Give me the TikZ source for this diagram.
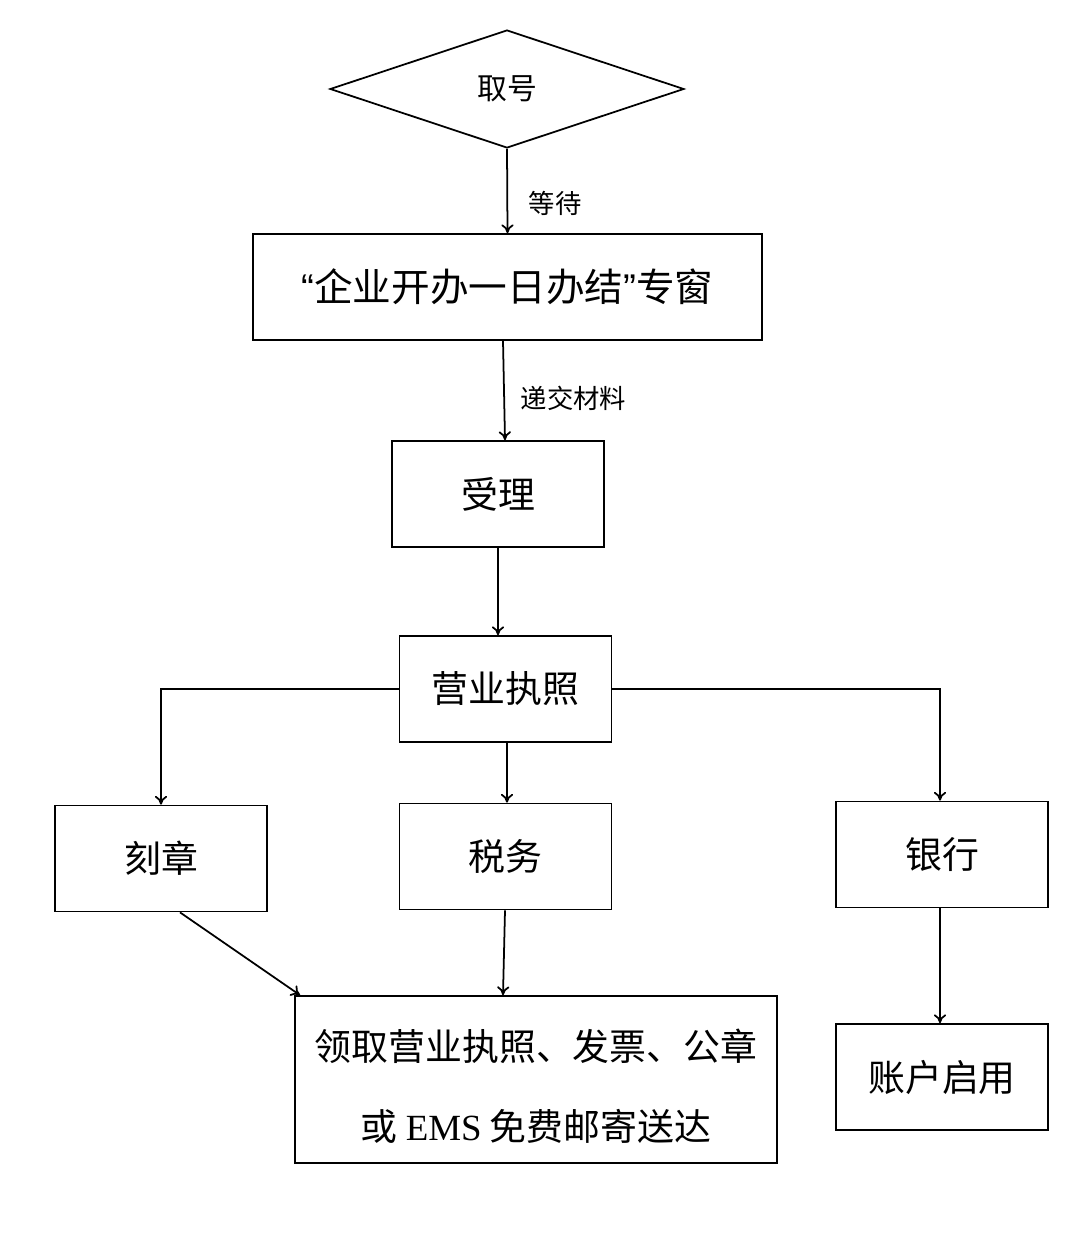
\documentclass[tikz,border=0pt]{standalone}
\usepackage{fontspec}
\setmainfont{Noto Sans CJK SC}
\newfontfamily\emsfont{Liberation Serif}
\newfontfamily\quotefont{Liberation Sans}
\usetikzlibrary{shapes.geometric,arrows.meta}

\begin{document}
\begin{tikzpicture}[x=0.02cm, y=-0.02cm, line width=1pt, >={To[length=5pt,width=7pt]},
  box/.style={draw, rectangle, inner sep=0pt, minimum width=4.24cm, minimum height=2.12cm,
    font=\fontsize{21}{24}\selectfont},
  lbl/.style={font=\fontsize{15}{18}\selectfont, anchor=west}]

% Fix the page size
  \useasboundingbox (0,0) rectangle (1080,1247);

% Draw the diamond at the top
  \node[draw, diamond, aspect=3, inner sep=0pt, minimum width=7.08cm, minimum height=2.36cm,
    font=\fontsize{17}{20}\selectfont] (quhao) at (507,89) {取号};

% Draw the window box
  \node[box, minimum width=10.18cm, font=\fontsize{22}{24}\selectfont] (zhuanchuang) at (507.5,287)
    {{\quotefont “}企业开办一日办结{\quotefont ”}专窗};

% Draw the boxes in the middle column
  \node[box] (shouli) at (498,494) {受理};
  \node[box] (zhizhao) at (505.5,689) {营业执照};
  \node[box] (shuiwu) at (505.5,856.5) {税务};

% Draw the boxes on the left and right
  \node[box] (kezhang) at (161,858.5) {刻章};
  \node[box] (yinhang) at (942,854.5) {银行};
  \node[box] (zhanghu) at (942,1077) {账户启用};

% Draw the big box at the bottom
  \node[box, minimum width=9.64cm, minimum height=3.34cm, align=center,
    font=\fontsize{21}{45}\selectfont] (lingqu) at (536,1079.5)
    {\rule{0pt}{0.9cm}领取营业执照、发票、公章\\或 {\emsfont EMS} 免费邮寄送达};

% Arrows down the middle
  \draw[->] (quhao.south) -- (zhuanchuang.north) node[lbl, midway, xshift=0.3cm, yshift=-0.25cm] {等待};
  \draw[->] (zhuanchuang.south -| 503,0) -- (shouli.north -| 505,0) node[lbl, midway, xshift=0.2cm, yshift=-0.15cm] {递交材料};
  \draw[->] (shouli.south) -- (zhizhao.north -| 498,0);
  \draw[->] (zhizhao.south -| 507,0) -- (shuiwu.north -| 507,0);

% Arrows to the left and right branches
  \draw[->] (zhizhao.west) -| (kezhang.north);
  \draw[->] (zhizhao.east) -| (yinhang.north -| 940,0);

% Arrows to the last boxes
  \draw[->] (kezhang.south -| 180,0) -- (lingqu.north west -| 300,0);
  \draw[->] (shuiwu.south -| 505,0) -- (lingqu.north -| 503,0);
  \draw[->] (yinhang.south -| 940,0) -- (zhanghu.north -| 940,0);

\end{tikzpicture}
\end{document}
